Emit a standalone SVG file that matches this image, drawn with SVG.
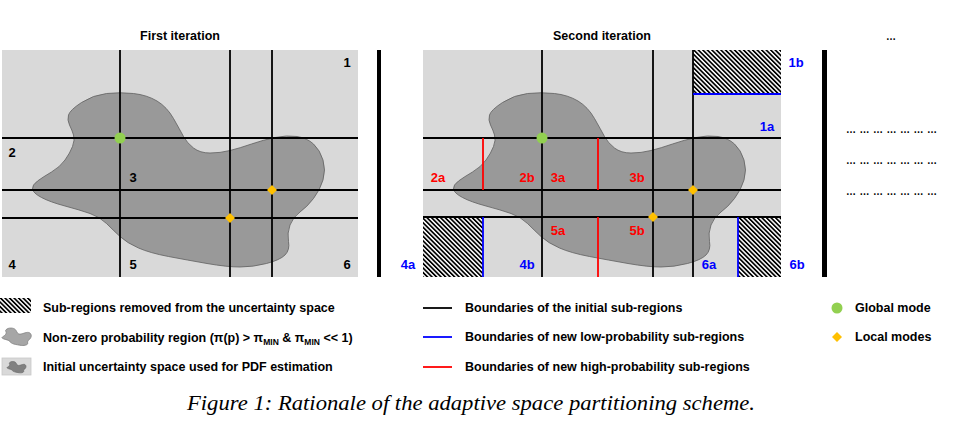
<svg xmlns="http://www.w3.org/2000/svg" xmlns:xlink="http://www.w3.org/1999/xlink" width="953" height="429" viewBox="0 0 953 429">
<style>
.bg{fill:#d9d9d9}
.blob{fill:#999999;stroke:#5f5f5f;stroke-width:0.8}
.k{stroke:#000;stroke-width:1.8;fill:none}
.b{stroke:#0000ff;stroke-width:1.8;fill:none}
.r{stroke:#ff0000;stroke-width:1.8;fill:none}
.hatch{fill:url(#hp)}
.gm{fill:#92d050}
.lm{fill:#ffc000}
text{font-family:"Liberation Sans",Arial,sans-serif;font-weight:bold}
.t{font-size:12.5px;fill:#000}
.n{font-size:13px;fill:#000;text-anchor:middle}
.nb{font-size:13px;fill:#0000ff;text-anchor:middle}
.nr{font-size:13px;fill:#ff0000;text-anchor:middle}
.ttl{font-size:12.5px;fill:#000;text-anchor:middle}
.lg{font-size:12.5px;fill:#000}
.cap{font-family:"Liberation Serif","Times New Roman",serif;font-style:italic;font-weight:normal;font-size:21px;fill:#000}
.dots{font-size:10px;fill:#000}
</style>
<defs>
<pattern id="hp" width="3.2" height="3.2" patternUnits="userSpaceOnUse" patternTransform="rotate(-45)">
<rect width="3.2" height="3.2" fill="#fff"/>
<rect width="1.7" height="3.2" fill="#000"/>
</pattern>
<path id="blobShape" d="M 68.5,115 Q 70,110 81.5,102.5 Q 93,95 106.5,93.5 Q 120,92 133.5,93.5 Q 147,95 157,101 Q 167,107 173.5,118.5 Q 180,130 183.5,136.5 Q 187,143 193.5,148 Q 200,153 210,153 Q 220,153 230,150.5 Q 240,148 251.5,144 Q 263,140 275,137.5 Q 287,135 297,136.5 Q 307,138 313.5,144 Q 320,150 323,160 Q 326,170 323,180 Q 320,190 313.5,198.5 Q 307,207 300,212 Q 293,217 290,225 Q 287,233 288.5,241.5 Q 290,250 285,255 Q 280,260 266.5,263.5 Q 253,267 240,267 Q 227,267 207,263.5 Q 187,260 168.5,256.5 Q 150,253 138.5,248 Q 127,243 120,236.5 Q 113,230 106.5,223.5 Q 100,217 90,213.5 Q 80,210 65,206 Q 50,202 41.5,197.5 Q 33,193 32.5,189 Q 32,185 37.5,181 Q 43,177 51.5,172 Q 60,167 65,160 Q 70,153 72.5,146.5 Q 75,140 73.5,135 Q 72,130 69.5,125 Q 67,120 68.5,115 Z"/>
</defs>
<rect width="953" height="429" fill="#fff"/>

<!-- Panel 1 -->
<g id="panel1">
<text class="ttl" x="180" y="40">First iteration</text>
<rect class="bg" x="2" y="50" width="356" height="227"/>
<use xlink:href="#blobShape" class="blob"/>
</g>

<!-- Panel 2 -->
<g id="panel2">
<text class="ttl" x="602" y="40">Second iteration</text>
<rect class="bg" x="423" y="50" width="358" height="227"/>
<use xlink:href="#blobShape" class="blob" transform="translate(421,0)"/>
<rect class="hatch" x="693" y="50" width="88" height="44"/>
<rect class="hatch" x="423" y="217" width="60" height="60"/>
<rect class="hatch" x="738" y="217" width="43" height="60"/>
</g>

<g id="connectors">
<!-- panel 1 grid -->
<line class="k" x1="120" y1="50" x2="120" y2="277"/>
<line class="k" x1="230" y1="50" x2="230" y2="277"/>
<line class="k" x1="272" y1="50" x2="272" y2="277"/>
<line class="k" x1="2" y1="138" x2="358" y2="138"/>
<line class="k" x1="2" y1="190" x2="358" y2="190"/>
<line class="k" x1="2" y1="218" x2="358" y2="218"/>
<!-- panel 2 grid -->
<line class="k" x1="542" y1="50" x2="542" y2="277"/>
<line class="k" x1="653" y1="50" x2="653" y2="277"/>
<line class="k" x1="693" y1="50" x2="693" y2="277"/>
<line class="k" x1="423" y1="138" x2="781" y2="138"/>
<line class="k" x1="423" y1="190" x2="781" y2="190"/>
<line class="k" x1="423" y1="217" x2="781" y2="217"/>
<line class="b" x1="693" y1="94" x2="781" y2="94"/>
<line class="b" x1="483" y1="217" x2="483" y2="277"/>
<line class="b" x1="738" y1="217" x2="738" y2="277"/>
<line class="r" x1="483" y1="138" x2="483" y2="190"/>
<line class="r" x1="598" y1="138" x2="598" y2="190"/>
<line class="r" x1="598" y1="217" x2="598" y2="277"/>
<!-- separators -->
<rect x="377" y="50" width="4" height="227" fill="#000"/>
<rect x="822" y="50" width="5" height="227" fill="#000"/>
</g>

<g id="modes">
<circle class="gm" cx="120" cy="138" r="5.5"/>
<polygon class="lm" points="272,185 277,190 272,195 267,190"/>
<polygon class="lm" points="230,213 235,218 230,223 225,218"/>
<circle class="gm" cx="542" cy="138" r="5.5"/>
<polygon class="lm" points="693,185 698,190 693,195 688,190"/>
<polygon class="lm" points="653,212 658,217 653,222 648,217"/>
</g>

<g id="labels1">
<text class="n" x="347" y="67">1</text>
<text class="n" x="12" y="157">2</text>
<text class="n" x="133" y="182">3</text>
<text class="n" x="12" y="269">4</text>
<text class="n" x="133" y="269">5</text>
<text class="n" x="347" y="269">6</text>
</g>

<g id="labels2">
<text class="nb" x="796" y="67">1b</text>
<text class="nb" x="767" y="131">1a</text>
<text class="nr" x="438" y="182">2a</text>
<text class="nr" x="527" y="182">2b</text>
<text class="nr" x="558" y="182">3a</text>
<text class="nr" x="637" y="182">3b</text>
<text class="nr" x="558" y="235">5a</text>
<text class="nr" x="637" y="235">5b</text>
<text class="nb" x="408" y="269">4a</text>
<text class="nb" x="527" y="269">4b</text>
<text class="nb" x="709" y="269">6a</text>
<text class="nb" x="797" y="269">6b</text>
</g>

<g id="panel3">
<text class="dots" x="891" y="40" text-anchor="middle">…</text>
<text class="dots" x="846" y="133" textLength="91" lengthAdjust="spacing">… … … … … … …</text>
<text class="dots" x="846" y="164" textLength="91" lengthAdjust="spacing">… … … … … … …</text>
<text class="dots" x="846" y="195" textLength="91" lengthAdjust="spacing">… … … … … … …</text>
</g>

<g id="legend">
<rect class="hatch" x="0" y="298" width="31" height="15"/>
<text class="lg" x="43" y="312">Sub-regions removed from the uncertainty space</text>
<use xlink:href="#blobShape" transform="translate(-1.2,318.8) scale(0.1)" fill="#a6a6a6" stroke="#7f7f7f" stroke-width="8"/>
<text class="lg" x="43" y="342">Non-zero probability region (π(p) &gt; π<tspan font-size="8.5px" dy="2.5">MIN</tspan><tspan dy="-2.5"> &amp; π</tspan><tspan font-size="8.5px" dy="2.5">MIN</tspan><tspan dy="-2.5"> &lt;&lt; 1)</tspan></text>
<rect x="2" y="358" width="29" height="17" fill="#d9d9d9" stroke="#c8c8c8" stroke-width="0.8"/>
<use xlink:href="#blobShape" transform="translate(4.9,355.5) scale(0.065)" fill="#808080" stroke="#666" stroke-width="10"/>
<text class="lg" x="43" y="371">Initial uncertainty space used for PDF estimation</text>

<line class="k" x1="423" y1="308" x2="452" y2="308"/>
<text class="lg" x="465" y="312">Boundaries of the initial sub-regions</text>
<line class="b" x1="423" y1="337" x2="452" y2="337"/>
<text class="lg" x="465" y="341">Boundaries of new low-probability sub-regions</text>
<line class="r" x1="423" y1="367" x2="452" y2="367"/>
<text class="lg" x="465" y="371">Boundaries of new high-probability sub-regions</text>

<circle class="gm" cx="837" cy="308" r="5.5"/>
<text class="lg" x="855" y="312">Global mode</text>
<polygon class="lm" points="837,332 842,337 837,342 832,337"/>
<text class="lg" x="855" y="341">Local modes</text>
</g>

<text class="cap" x="187" y="410" textLength="568" lengthAdjust="spacingAndGlyphs">Figure 1: Rationale of the adaptive space partitioning scheme.</text>
</svg>
